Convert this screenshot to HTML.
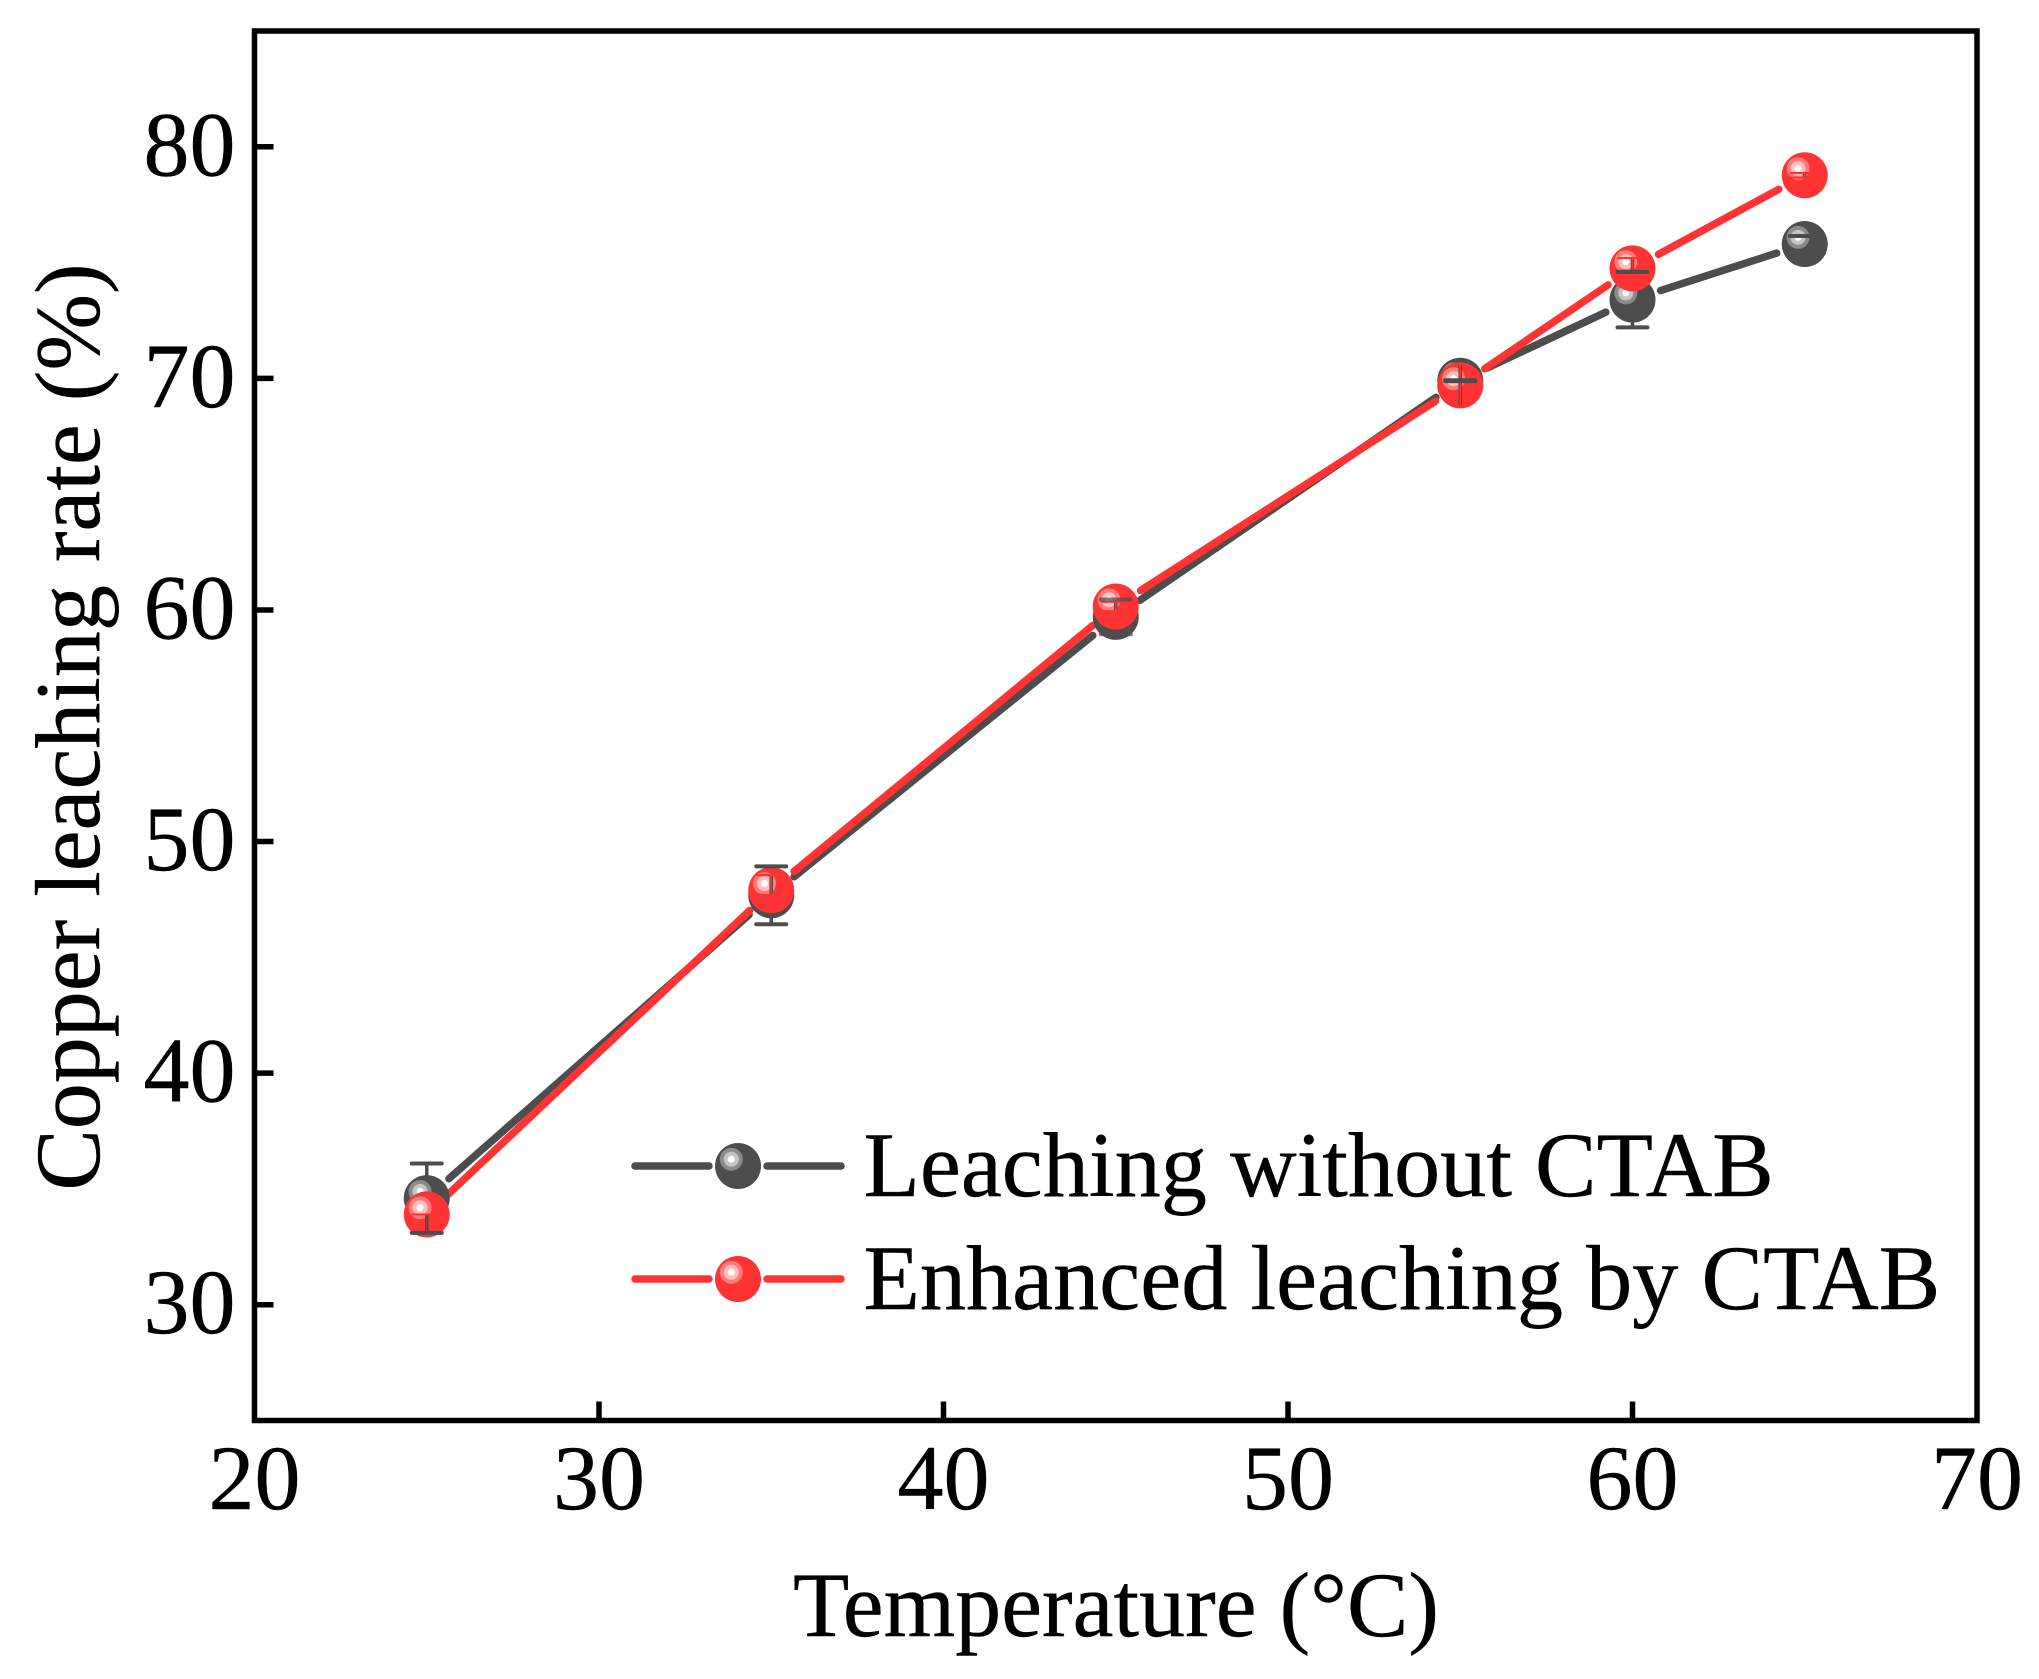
<!DOCTYPE html>
<html lang="en">
<head>
<meta charset="utf-8">
<title>Copper leaching rate vs temperature</title>
<style>
html,body{margin:0;padding:0;background:#fff}
svg{display:block}
text{font-family:"Liberation Serif",serif;fill:#000;stroke:#000;stroke-width:0.4px}
</style>
</head>
<body>
<svg id="chart" xmlns="http://www.w3.org/2000/svg" width="2039" height="1679" viewBox="0 0 2039 1679"></svg>
<script>
const temperatures = [25, 35, 45, 55, 60, 65];
const leachingWithout = [34.6, 47.68, 59.7, 69.9, 73.4, 75.8];
const leachingEnhanced = [33.9, 47.9, 60.15, 69.7, 74.75, 78.77];
const withoutError = [1.5, 1.25, 0.75, 0.02, 1.2, 0.35];
const enhancedErrorPlus = [0, 0.65, 0.2, 0.9, 0.45, 0.1];
const enhancedErrorMinus = [0.9, 0.2, 0.2, 0.9, 0.1, 0.1];
const xTickValues = [20, 30, 40, 50, 60, 70];
const yTickValues = [30, 40, 50, 60, 70, 80];
const xDomain = [20, 70];
const yDomain = [25, 85];
const legendLabels = ["Leaching without CTAB", "Enhanced leaching by CTAB"];

const DARK = "#4d4d4d", RED = "#ff3333";
const plot = {left: 254.5, right: 1977, top: 31, bottom: 1420.5};
const R = 23, GAP = 29.5, FONT = 92, LINE_W = 7.5;
const svg = document.getElementById("chart");

function xScale(v){ return plot.left + (v - xDomain[0]) / (xDomain[1] - xDomain[0]) * (plot.right - plot.left); }
function yScale(v){ return plot.bottom - (v - yDomain[0]) / (yDomain[1] - yDomain[0]) * (plot.bottom - plot.top); }

function make(tag, attrs, parent){
  const n = document.createElementNS("http://www.w3.org/2000/svg", tag);
  for (const k in attrs) n.setAttribute(k, attrs[k]);
  (parent || svg).appendChild(n);
  return n;
}
function line(parent, x1, y1, x2, y2, color, w, cap){
  return make("line", {x1, y1, x2, y2, stroke: color, "stroke-width": w, "stroke-linecap": cap || "butt"}, parent);
}
function drawBall(parent, cx, cy, color){
  make("circle", {cx, cy, r: R, fill: color}, parent);
  make("circle", {cx: cx - 6.7, cy: cy - 6.7, r: 11.5, fill: "#fff", "fill-opacity": 0.35}, parent);
  make("circle", {cx: cx - 6.7, cy: cy - 6.7, r: 7.5, fill: "#fff", "fill-opacity": 0.5}, parent);
  make("circle", {cx: cx - 6.7, cy: cy - 6.7, r: 3.5, fill: "#fff"}, parent);
}
function drawSeriesLine(values, color, name){
  const g = make("g", {});
  
  
  for (let i = 0; i < values.length - 1; i++){
    const x1 = xScale(temperatures[i]), y1 = yScale(values[i]);
    const x2 = xScale(temperatures[i + 1]), y2 = yScale(values[i + 1]);
    const d = Math.hypot(x2 - x1, y2 - y1), ux = (x2 - x1) / d, uy = (y2 - y1) / d;
    line(g, x1 + ux * GAP, y1 + uy * GAP, x2 - ux * GAP, y2 - uy * GAP, color, LINE_W, "round");
  }
}
function drawMarkers(values, color, name){
  const g = make("g", {});
  
  
  values.forEach((v, i) => drawBall(g, xScale(temperatures[i]), yScale(v), color));
}

/* series lines */
drawSeriesLine(leachingWithout, DARK, "line-without-ctab");
drawSeriesLine(leachingEnhanced, RED, "line-enhanced-ctab");

/* dark error stems sit beneath the markers */
const stemGroup = make("g", {});


leachingWithout.forEach((v, i) => {
  const x = xScale(temperatures[i]);
  line(stemGroup, x, yScale(v + withoutError[i]), x, yScale(v - withoutError[i]), DARK, 3.5);
});

drawMarkers(leachingWithout, DARK, "markers-without-ctab");
drawMarkers(leachingEnhanced, RED, "markers-enhanced-ctab");

/* enhanced series error bars: red caps stay inside the red ball */
const redErrGroup = make("g", {});


leachingEnhanced.forEach((v, i) => {
  const x = xScale(temperatures[i]), yc = yScale(v);
  const yTop = yScale(v + enhancedErrorPlus[i]), yBot = yScale(v - enhancedErrorMinus[i]);
  line(redErrGroup, x, yTop, x, yBot, DARK, 3.5);
  line(redErrGroup, x, yTop, x, yBot, RED, i === 0 ? 0.4 : 1.6);
  [yTop, yBot].forEach(y => {
    const off = Math.abs(y - yc);
    if (off < R - 1) {
      const half = Math.min(15, Math.sqrt(R * R - off * off) - 1);
      line(redErrGroup, x - half, y, x + half, y, RED, 2);
    }
  });
});

/* dark error caps sit above the markers */
const capGroup = make("g", {});


leachingWithout.forEach((v, i) => {
  const x = xScale(temperatures[i]);
  [v + withoutError[i], v - withoutError[i]].forEach(e => {
    const cap = line(capGroup, x - 15, yScale(e), x + 15, yScale(e), DARK, 4, "round");
    cap.setAttribute("stroke-opacity", i === 2 ? 0.75 : 1);
  });
});

/* axes */
const frame = make("rect", {x: plot.left, y: plot.top, width: plot.right - plot.left, height: plot.bottom - plot.top, fill: "none", stroke: "#000", "stroke-width": 5.5});



const xAxis = make("g", {});


xTickValues.forEach(v => {
  const x = xScale(v);
  if (v !== xDomain[0] && v !== xDomain[1]) {
    const t = line(xAxis, x, plot.bottom, x, plot.bottom - 19, "#000", 5.5);
    
    
  }
  const label = make("text", {x, y: 1509, "font-size": FONT, "text-anchor": "middle"}, xAxis);
  
  
  label.textContent = v;
});

const yAxis = make("g", {});


yTickValues.forEach(v => {
  const y = yScale(v);
  const t = line(yAxis, plot.left, y, plot.left + 19, y, "#000", 5.5);
  
  
  const label = make("text", {x: 235.5, y: y + 28.5, "font-size": FONT, "text-anchor": "end"}, yAxis);
  
  
  label.textContent = v;
});

const xTitle = make("text", {x: 1116, y: 1636, "font-size": FONT, "text-anchor": "middle"});


xTitle.textContent = "Temperature (°C)";

const yTitle = make("text", {x: 0, y: 0, "font-size": FONT, "text-anchor": "middle", transform: "translate(99 727) rotate(-90)"});


yTitle.textContent = "Copper leaching rate (%)";

/* legend */
const legend = make("g", {});


legendLabels.forEach((name, i) => {
  const color = i === 0 ? DARK : RED;
  const y = i === 0 ? 1166 : 1279;
  const entry = make("g", {}, legend);
  
  
  line(entry, 635, y, 709, y, color, LINE_W, "round");
  line(entry, 767, y, 841, y, color, LINE_W, "round");
  drawBall(entry, 738, y, color);
  const label = make("text", {x: 863.5, y: y + 30, "font-size": 92.3}, entry);
  
  
  label.textContent = name;
});
</script>
</body>
</html>
